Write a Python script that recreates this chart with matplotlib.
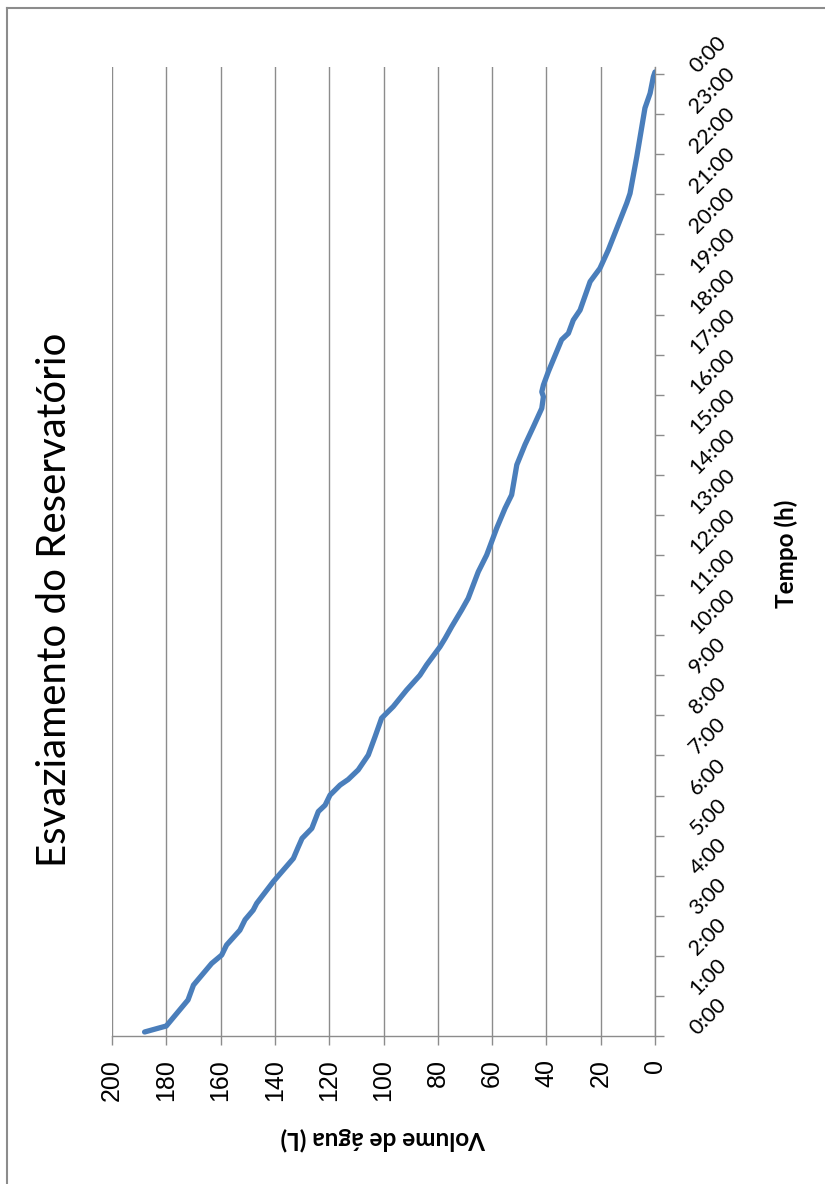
import matplotlib
matplotlib.use("Agg")
import matplotlib.pyplot as plt
from matplotlib.lines import Line2D

# ---- data ----
tempo_h = [0.10, 0.25, 0.90, 1.27, 1.81, 2.02, 2.27, 2.64, 2.90, 3.14, 3.31, 3.85,
           4.43, 4.70, 4.93, 5.18, 5.60, 5.76, 6.01, 6.26, 6.40, 6.64, 7.01, 7.47,
           7.93, 8.22, 8.63, 9.00, 9.26, 9.71, 9.92, 10.21, 10.63, 10.92, 11.58,
           12.00, 12.67, 13.17, 13.50, 14.25, 14.75, 15.20, 15.66, 15.95, 16.07,
           16.24, 16.57, 17.37, 17.53, 17.86, 18.11, 18.82, 19.15, 19.61, 20.78,
           21.02, 21.94, 23.15, 23.52, 23.93, 24.05]
volume_l = [188.0, 180.0, 172.0, 170.0, 163.3, 159.6, 157.8, 152.9, 151.0, 148.0, 146.7, 140.6,
            133.2, 131.5, 130.0, 126.4, 124.0, 121.5, 119.7, 116.0, 113.0, 109.3, 105.6, 103.1,
            100.7, 96.4, 91.5, 86.6, 84.1, 79.2, 77.3, 74.9, 71.2, 68.8, 65.1,
            62.0, 58.3, 55.2, 52.8, 50.9, 47.9, 44.8, 41.7, 41.1, 41.7,
            41.1, 39.3, 34.4, 31.9, 30.1, 27.6, 23.9, 20.3, 17.2, 10.4,
            9.2, 6.7, 3.7, 1.8, 0.6, 0.0]
volume_ticks = [200, 180, 160, 140, 120, 100, 80, 60, 40, 20, 0]
hour_ticks = list(range(25))
hour_labels = [f"{h % 24}:00" for h in hour_ticks]

title = "Esvaziamento do Reservatório"
xlabel = "Volume de água (L)"
ylabel = "Tempo (h)"

W, H = 825, 1184
fig = plt.figure(figsize=(W / 100, H / 100), dpi=100)
gray = "#8c8c8c"

L, R, T, B = 112, 655, 67, 1036
ax = fig.add_axes([L / W, 1 - B / H, (R - L) / W, (B - T) / H])

ax.plot(volume_l, tempo_h, color="#4a7ebb", lw=3.8, solid_capstyle="round",
        solid_joinstyle="round", zorder=3)

ax.set_xlim(200, 0)
ax.set_ylim(0, 24 + 7 / 40.08)

for s in ["top", "left"]:
    ax.spines[s].set_visible(False)
for s in ["bottom", "right"]:
    ax.spines[s].set_color(gray)
    ax.spines[s].set_linewidth(1.0)

ax.set_xticks(volume_ticks)
ax.set_xticklabels([str(v) for v in volume_ticks], rotation=90,
                   fontfamily="Liberation Sans", fontsize=18)
ax.grid(axis="x", color=gray, lw=1.0)
ax.set_axisbelow(True)

ax.yaxis.tick_right()
ax.set_yticks(hour_ticks)
ax.set_yticklabels(hour_labels, fontfamily="Lato", fontsize=15.5)
for lab in ax.get_yticklabels():
    lab.set_rotation(45)
    lab.set_rotation_mode("anchor")
    lab.set_ha("left")
    lab.set_va("baseline")

ax.tick_params(axis="x", direction="out", length=6.5, width=1.0, color=gray, pad=10)
ax.tick_params(axis="y", direction="out", length=6.5, width=1.0, color=gray, pad=24)

ax.set_xlabel(xlabel, fontfamily="Lato", fontweight="bold", fontsize=17.5, rotation=180,
              va="center", ha="center")
ax.xaxis.set_label_coords(0.5, -(1139 - B) / (B - T))
ax.yaxis.set_label_position("right")
ax.set_ylabel(ylabel, fontfamily="Lato", fontweight="bold", fontsize=17.5, rotation=90,
              va="center", ha="center")
ax.yaxis.set_label_coords((786 - L) / (R - L), (B - 554) / (B - T))

fig.text(55 / W, 1 - 600 / H, title, rotation=90, ha="center", va="center",
         fontfamily="Lato", fontsize=29)

# outer chart frame (left and top edges visible)
fig.add_artist(Line2D([7 / W, 7 / W], [0, 1 - 8 / H], color=gray, lw=1.5))
fig.add_artist(Line2D([7 / W, 1], [1 - 8 / H, 1 - 8 / H], color=gray, lw=1.5))

fig.savefig("out.png", dpi=100)
